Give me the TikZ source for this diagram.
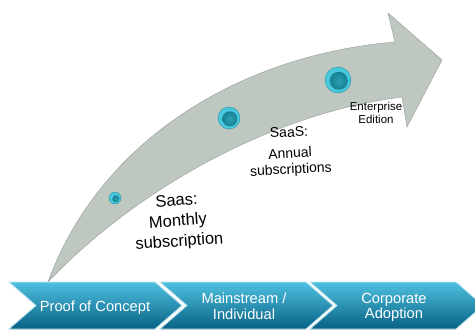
\documentclass[tikz,border=0pt]{standalone}
\usepackage{fontspec}
\setmainfont{Liberation Sans}
\definecolor{shaftgrey}{RGB}{190,199,192}
\definecolor{shaftedge}{RGB}{155,166,159}
\definecolor{chevtop}{RGB}{78,192,224}
\definecolor{chevbot}{RGB}{8,98,132}
\definecolor{beadring}{RGB}{72,200,220}
\definecolor{beadcore}{RGB}{22,128,146}
\tikzset{
  chevron/.style={top color=chevtop, bottom color=chevbot, draw=white!65!chevtop, line width=0.8pt},
  stage/.style={text=white, align=center, inner sep=0pt, font=\fontsize{14.7}{15.5}\selectfont},
  note/.style={text=black, align=center, inner sep=0pt},
  bead/.style={circle, inner sep=0pt, minimum size=#1, fill=beadring, draw=beadcore!70!beadring, line width=0.4pt}
}
\begin{document}
\begin{tikzpicture}[x=1pt,y=-1pt]
\useasboundingbox (0,0) rectangle (475,330);
\def\ytop{282};
\def\ymid{305.5};
\def\ybot{329};
\def\chw{146};
\def\chp{27};

\filldraw[fill=shaftgrey, draw=shaftedge, line width=0.5pt] (48,282) .. controls (100,140) and (240,55) .. (395,42) -- (388,13) -- (442,60) -- (407,127) -- (402,97) .. controls (260,115) and (125,200) .. (48,282) -- cycle;

\node[bead=12pt] (b1) at (115,198) {};
\node[bead=22pt] (b2) at (229,118) {};
\node[bead=26pt] (b3) at (338,80) {};
\foreach \b/\r in {b1/3.5, b2/7.5, b3/9}
  \shade[inner color=beadcore!55!beadring, outer color=beadcore] ([shift={(0.8,0.8)}]\b.center) circle (\r);

\node[note, rotate=4, font=\fontsize{16.5}{20.5}\selectfont] (monthly) at (178,222) {Saas:\\Monthly\\subscription};
\node[note, rotate=3, font=\fontsize{14}{16}\selectfont] (annual) at (290,152) {SaaS:\\[5pt]Annual\\subscriptions};
\node[note, font=\fontsize{11.5}{13.5}\selectfont] (enterprise) at (376,113) {Enterprise\\Edition};

\foreach \x in {9,160,310}
  \filldraw[chevron] (\x,\ytop) -- (\x+\chw,\ytop) -- (\x+\chw+\chp,\ymid) -- (\x+\chw,\ybot) -- (\x,\ybot) -- (\x+\chp,\ymid) -- cycle;

\node[stage] (poc) at (95,307.5) {Proof of Concept};
\node[stage] (mainstream) at (244,306) {Mainstream /\\Individual};
\node[stage] (corporate) at (394,307.5) {Corporate\\Adoption};

\end{tikzpicture}
\end{document}
